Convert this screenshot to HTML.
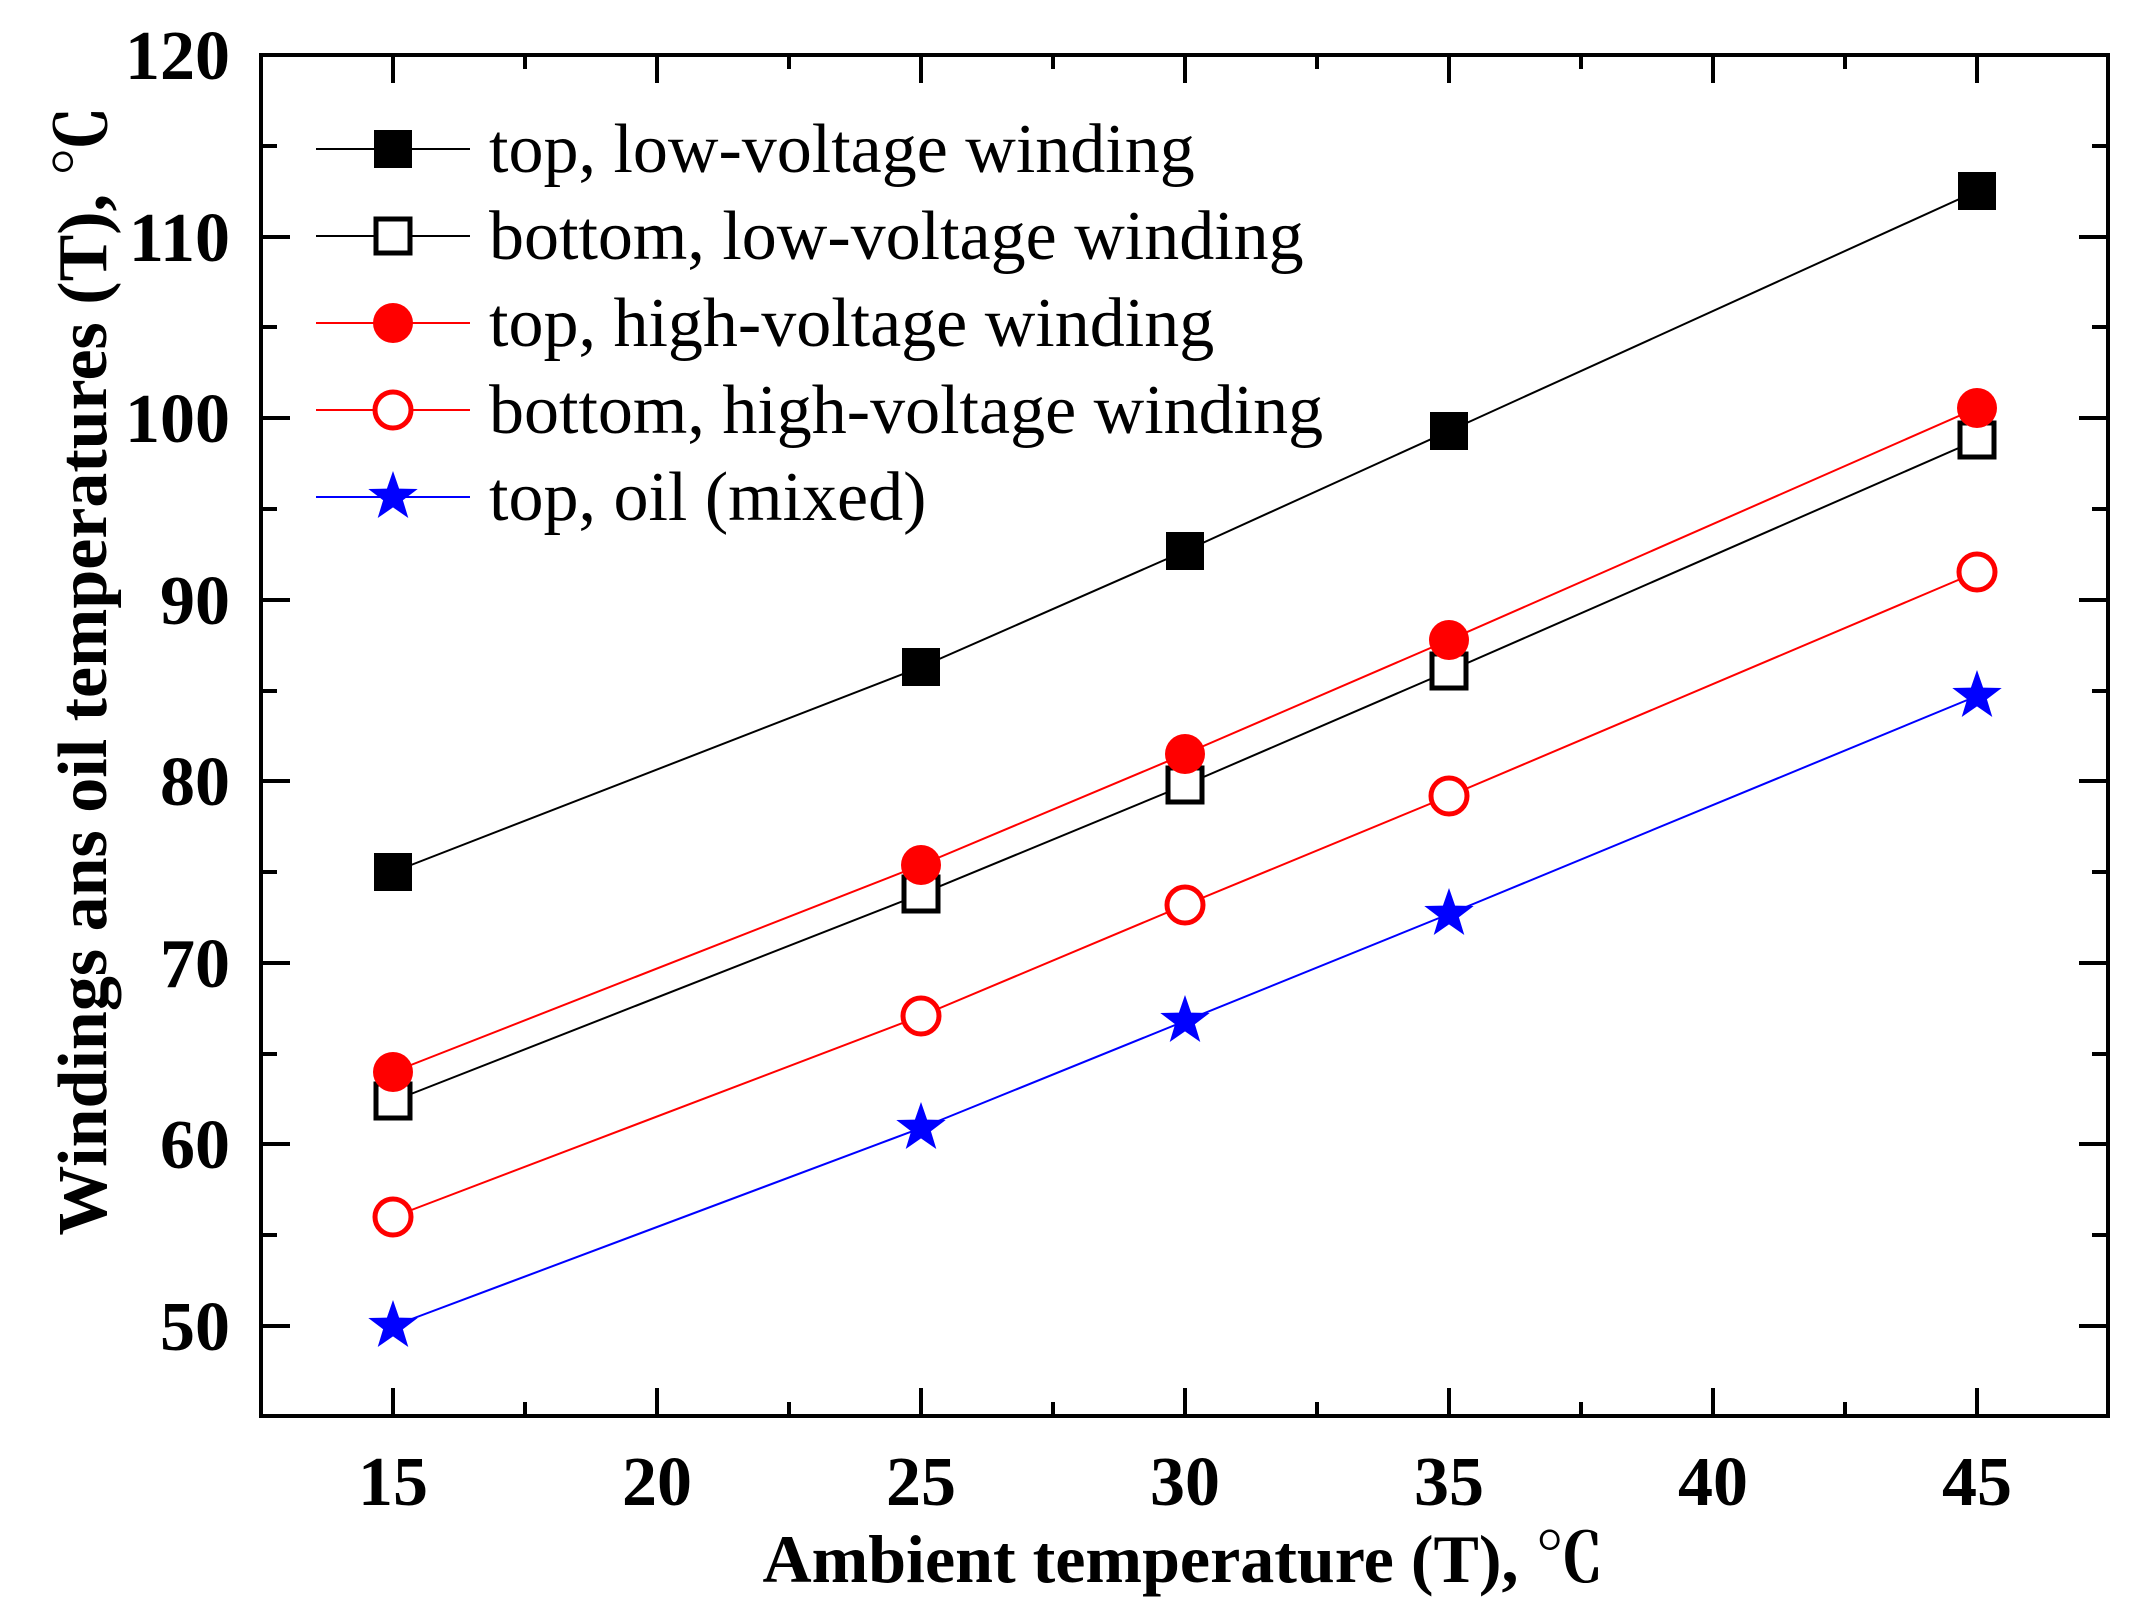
<!DOCTYPE html>
<html><head><meta charset="utf-8"><style>
html,body{margin:0;padding:0;background:#fff;}
svg{display:block;}
text{font-family:"Liberation Serif","Noto Serif CJK SC",serif;}
</style></head><body>
<svg width="2139" height="1611" viewBox="0 0 2139 1611" xmlns="http://www.w3.org/2000/svg">
<defs>
<path id="star" d="M0,-26 L6.1,-8.4 L24.7,-8 L9.9,3.2 L15.3,21 L0,10.4 L-15.3,21 L-9.9,3.2 L-24.7,-8 L-6.1,-8.4 Z"/>
</defs>
<rect x="261" y="55" width="1847" height="1361" fill="none" stroke="#000" stroke-width="4"/>
<g stroke="#000" stroke-width="4">
<line x1="393" y1="1416" x2="393" y2="1388"/><line x1="393" y1="55" x2="393" y2="83"/>
<line x1="525" y1="1416" x2="525" y2="1402"/><line x1="525" y1="55" x2="525" y2="69"/>
<line x1="657" y1="1416" x2="657" y2="1388"/><line x1="657" y1="55" x2="657" y2="83"/>
<line x1="789" y1="1416" x2="789" y2="1402"/><line x1="789" y1="55" x2="789" y2="69"/>
<line x1="921" y1="1416" x2="921" y2="1388"/><line x1="921" y1="55" x2="921" y2="83"/>
<line x1="1053" y1="1416" x2="1053" y2="1402"/><line x1="1053" y1="55" x2="1053" y2="69"/>
<line x1="1185" y1="1416" x2="1185" y2="1388"/><line x1="1185" y1="55" x2="1185" y2="83"/>
<line x1="1317" y1="1416" x2="1317" y2="1402"/><line x1="1317" y1="55" x2="1317" y2="69"/>
<line x1="1449" y1="1416" x2="1449" y2="1388"/><line x1="1449" y1="55" x2="1449" y2="83"/>
<line x1="1581" y1="1416" x2="1581" y2="1402"/><line x1="1581" y1="55" x2="1581" y2="69"/>
<line x1="1713" y1="1416" x2="1713" y2="1388"/><line x1="1713" y1="55" x2="1713" y2="83"/>
<line x1="1845" y1="1416" x2="1845" y2="1402"/><line x1="1845" y1="55" x2="1845" y2="69"/>
<line x1="1977" y1="1416" x2="1977" y2="1388"/><line x1="1977" y1="55" x2="1977" y2="83"/>
<line x1="261" y1="55" x2="290" y2="55"/><line x1="2108" y1="55" x2="2079" y2="55"/>
<line x1="261" y1="146" x2="277" y2="146"/><line x1="2108" y1="146" x2="2092" y2="146"/>
<line x1="261" y1="237" x2="290" y2="237"/><line x1="2108" y1="237" x2="2079" y2="237"/>
<line x1="261" y1="327" x2="277" y2="327"/><line x1="2108" y1="327" x2="2092" y2="327"/>
<line x1="261" y1="418" x2="290" y2="418"/><line x1="2108" y1="418" x2="2079" y2="418"/>
<line x1="261" y1="509" x2="277" y2="509"/><line x1="2108" y1="509" x2="2092" y2="509"/>
<line x1="261" y1="600" x2="290" y2="600"/><line x1="2108" y1="600" x2="2079" y2="600"/>
<line x1="261" y1="691" x2="277" y2="691"/><line x1="2108" y1="691" x2="2092" y2="691"/>
<line x1="261" y1="781" x2="290" y2="781"/><line x1="2108" y1="781" x2="2079" y2="781"/>
<line x1="261" y1="872" x2="277" y2="872"/><line x1="2108" y1="872" x2="2092" y2="872"/>
<line x1="261" y1="963" x2="290" y2="963"/><line x1="2108" y1="963" x2="2079" y2="963"/>
<line x1="261" y1="1054" x2="277" y2="1054"/><line x1="2108" y1="1054" x2="2092" y2="1054"/>
<line x1="261" y1="1144" x2="290" y2="1144"/><line x1="2108" y1="1144" x2="2079" y2="1144"/>
<line x1="261" y1="1235" x2="277" y2="1235"/><line x1="2108" y1="1235" x2="2092" y2="1235"/>
<line x1="261" y1="1326" x2="290" y2="1326"/><line x1="2108" y1="1326" x2="2079" y2="1326"/>
</g>
<g font-size="70" font-weight="bold" text-anchor="end" fill="#000">
<text x="230" y="79">120</text>
<text x="230" y="261">110</text>
<text x="230" y="442">100</text>
<text x="230" y="624">90</text>
<text x="230" y="805">80</text>
<text x="230" y="987">70</text>
<text x="230" y="1168">60</text>
<text x="230" y="1350">50</text>
</g>
<g font-size="70" font-weight="bold" text-anchor="middle" fill="#000">
<text x="393" y="1505">15</text><text x="657" y="1505">20</text><text x="921" y="1505">25</text>
<text x="1185" y="1505">30</text><text x="1449" y="1505">35</text><text x="1713" y="1505">40</text>
<text x="1977" y="1505">45</text>
</g>
<text x="1183" y="1582" font-size="68" font-weight="bold" text-anchor="middle">Ambient temperature (T), ℃</text>
<text transform="translate(106,671) rotate(-90)" font-size="70" font-weight="bold" text-anchor="middle">Windings ans oil temperatures (T), ℃</text>
<g fill="none" stroke-width="2">
<polyline stroke="#000" points="393,872 921,667 1185,551 1449,431 1977,191"/>
<polyline stroke="#000" points="393,1101 921,894 1185,785 1449,671 1977,440"/>
<polyline stroke="#f00" points="393,1072 921,865 1185,754 1449,640 1977,408"/>
<polyline stroke="#f00" points="393,1217 921,1016 1185,905 1449,796 1977,572"/>
<polyline stroke="#00f" points="393,1326 921,1128 1185,1021 1449,914 1977,696"/>
</g>
<g fill="#000">
<rect x="374" y="853" width="38" height="38"/><rect x="902" y="648" width="38" height="38"/>
<rect x="1166" y="532" width="38" height="38"/><rect x="1430" y="412" width="38" height="38"/>
<rect x="1958" y="172" width="38" height="38"/>
</g>
<g fill="#fff" stroke="#000" stroke-width="5">
<rect x="376" y="1084" width="34" height="34"/><rect x="904" y="877" width="34" height="34"/>
<rect x="1168" y="768" width="34" height="34"/><rect x="1432" y="654" width="34" height="34"/>
<rect x="1960" y="423" width="34" height="34"/>
</g>
<g fill="#f00">
<circle cx="393" cy="1072" r="20"/><circle cx="921" cy="865" r="20"/><circle cx="1185" cy="754" r="20"/>
<circle cx="1449" cy="640" r="20"/><circle cx="1977" cy="408" r="20"/>
</g>
<g fill="#fff" stroke="#f00" stroke-width="5">
<circle cx="393" cy="1217" r="18"/><circle cx="921" cy="1016" r="18"/><circle cx="1185" cy="905" r="18"/>
<circle cx="1449" cy="796" r="18"/><circle cx="1977" cy="572" r="18"/>
</g>
<g fill="#00f">
<use href="#star" x="393" y="1326"/><use href="#star" x="921" y="1128"/><use href="#star" x="1185" y="1021"/>
<use href="#star" x="1449" y="914"/><use href="#star" x="1977" y="696"/>
</g>
<g stroke-width="2">
<line x1="316" y1="149" x2="470" y2="149" stroke="#000"/>
<line x1="316" y1="236" x2="470" y2="236" stroke="#000"/>
<line x1="316" y1="323" x2="470" y2="323" stroke="#f00"/>
<line x1="316" y1="410" x2="470" y2="410" stroke="#f00"/>
<line x1="316" y1="497" x2="470" y2="497" stroke="#00f"/>
</g>
<rect x="374" y="130" width="38" height="38" fill="#000"/>
<rect x="376" y="219" width="34" height="34" fill="#fff" stroke="#000" stroke-width="5"/>
<circle cx="393" cy="323" r="20" fill="#f00"/>
<circle cx="393" cy="410" r="18" fill="#fff" stroke="#f00" stroke-width="5"/>
<use href="#star" x="393" y="497" fill="#00f"/>
<g font-size="70" fill="#000">
<text x="489" y="172">top, low-voltage winding</text>
<text x="489" y="259">bottom, low-voltage winding</text>
<text x="489" y="346">top, high-voltage winding</text>
<text x="489" y="433">bottom, high-voltage winding</text>
<text x="489" y="520">top, oil (mixed)</text>
</g>
</svg>
</body></html>
